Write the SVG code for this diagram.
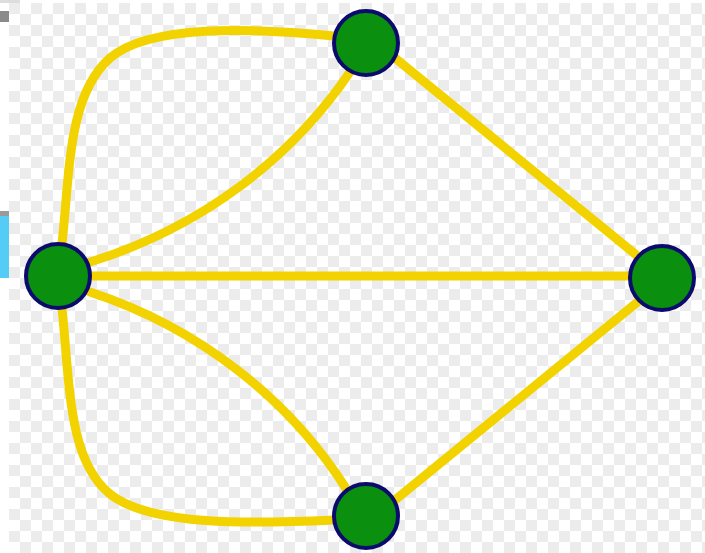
<svg xmlns="http://www.w3.org/2000/svg" width="705" height="553" viewBox="0 0 705 553">
<defs>
<pattern id="chk" x="9" y="3" width="22" height="22" patternUnits="userSpaceOnUse">
<rect width="22" height="22" fill="#ffffff"/>
<rect width="11" height="11" fill="#ececec"/>
<rect x="11" y="11" width="11" height="11" fill="#ececec"/>
</pattern>
<style>
.e{fill:none;stroke:#f2d300;stroke-width:9;stroke-linecap:round}
.e2{fill:none;stroke:#fbe41a;stroke-width:5;stroke-linecap:round}
.n{fill:#0a900e;stroke:#0b0b6e;stroke-width:4}
</style>
</defs>
<rect width="705" height="553" fill="#ffffff"/>
<rect x="9" y="3" width="696" height="550" fill="url(#chk)"/>
<rect x="0" y="0" width="20" height="3" fill="#dddddd"/>
<rect x="0" y="11" width="9" height="11" fill="#8a8a8a"/>
<rect x="0" y="211" width="9" height="6" fill="#9a9a9a"/>
<rect x="0" y="216" width="9" height="62" fill="#55ccf5"/>
<g id="connectors">
<path class="e" d="M62,244 C70,170 68,95 110,58 C150,24 250,28 334,36"/>
<path class="e" d="M90,262 C200,228 290,160 350,72"/>
<path class="e" d="M395,58 L640,258"/>
<path class="e" d="M90,276 L630,276"/>
<path class="e" d="M640,300 L395,500"/>
<path class="e" d="M90,292 C200,328 290,400 347,490"/>
<path class="e" d="M62,308 C70,385 68,460 110,494 C150,526 250,524 334,520"/>
</g>
<g id="node-top"><circle class="n" cx="366" cy="43" r="32"/></g>
<g id="node-left"><circle class="n" cx="58" cy="276" r="32"/></g>
<g id="node-right"><circle class="n" cx="662" cy="278" r="32"/></g>
<g id="node-bottom"><circle class="n" cx="366" cy="516" r="32"/></g>
</svg>
